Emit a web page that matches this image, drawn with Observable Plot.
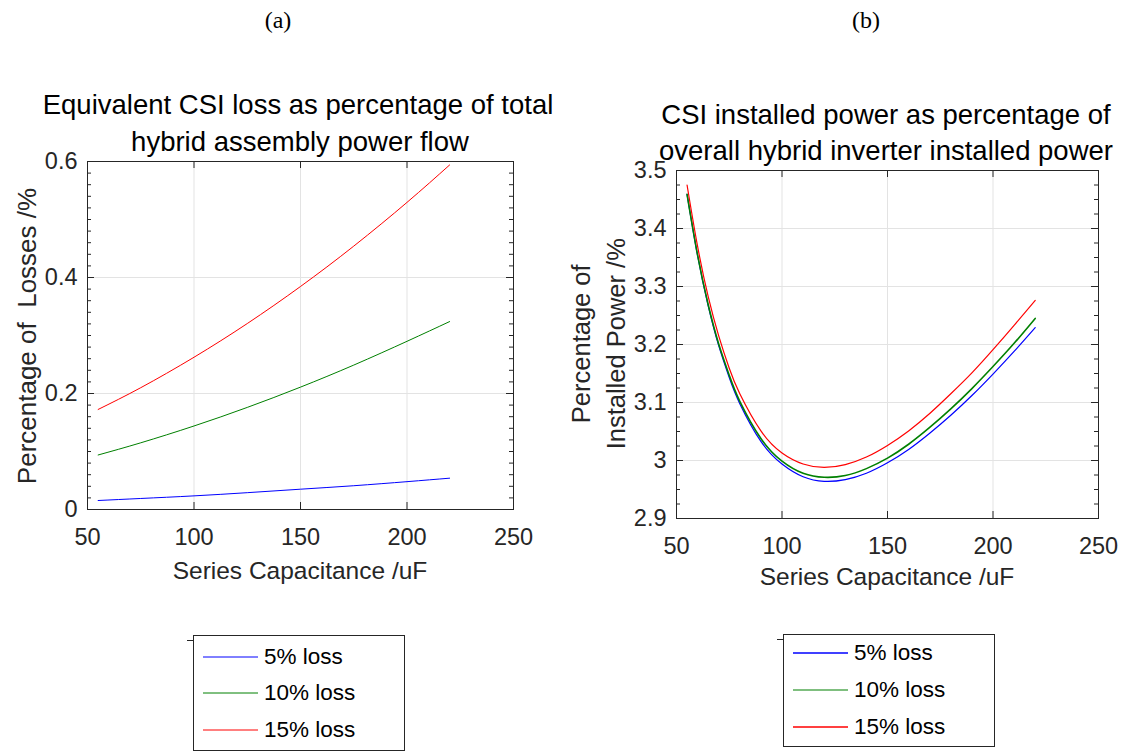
<!DOCTYPE html>
<html><head><meta charset="utf-8">
<script src="https://cdn.jsdelivr.net/npm/d3@7"></script>
<script src="https://cdn.jsdelivr.net/npm/@observablehq/plot@0.6"></script>
<style>
body{margin:0;background:#fff;}
#root{position:relative;width:1130px;height:752px;overflow:hidden;font-family:"Liberation Sans",Arial,sans-serif;color:#262626;}
.t{position:absolute;white-space:pre;text-align:center;}
.panel{position:absolute;}
.legend{position:absolute;border:1px solid #262626;background:#fff;box-sizing:border-box;}
.legend .row{position:absolute;left:0;font-size:22.5px;line-height:22px;color:#000;white-space:pre;}
</style></head><body><div id="root"></div><script>
// ---- data ----
const seriesNames = ["5% loss", "10% loss", "15% loss"];
const seriesColors = ["#0000ff", "#008000", "#ff0000"];

const capA = [55, 75, 100, 125, 150, 175, 200, 220];
const lossA5 = [0.0155, 0.019, 0.0235, 0.029, 0.035, 0.041, 0.048, 0.054];
const lossA10 = [0.094, 0.115, 0.144, 0.176, 0.211, 0.249, 0.290, 0.324];
const lossA15 = [0.1725, 0.210, 0.2625, 0.3206, 0.3845, 0.4541, 0.5295, 0.594];

const capB = [55, 60, 65, 70, 75, 80, 90, 100, 110, 120, 130, 140, 150, 160, 170, 180, 190, 200, 210, 220];
const powerB5 = [3.459, 3.353, 3.267, 3.198, 3.143, 3.098, 3.033, 2.994, 2.972, 2.964, 2.967, 2.978, 2.996, 3.019, 3.047, 3.078, 3.112, 3.149, 3.188, 3.229];
const powerB10 = [3.459, 3.354, 3.269, 3.201, 3.147, 3.102, 3.038, 2.999, 2.978, 2.971, 2.974, 2.986, 3.004, 3.028, 3.057, 3.089, 3.124, 3.162, 3.202, 3.245];
const powerB15 = [3.475, 3.369, 3.283, 3.215, 3.159, 3.115, 3.051, 3.013, 2.994, 2.988, 2.993, 3.006, 3.026, 3.051, 3.081, 3.115, 3.151, 3.191, 3.233, 3.276];

const xTicks = [50, 100, 150, 200, 250];
const xTickLabels = ["50", "100", "150", "200", "250"];
const yTicksA = [0, 0.2, 0.4, 0.6];
const yTickLabelsA = ["0", "0.2", "0.4", "0.6"];
const yTicksB = [2.9, 3.0, 3.1, 3.2, 3.3, 3.4, 3.5];
const yTickLabelsB = ["2.9", "3", "3.1", "3.2", "3.3", "3.4", "3.5"];

const titleA = ["Equivalent CSI loss as percentage of total", "hybrid assembly power flow"];
const titleB = ["CSI installed power as percentage of", "overall hybrid inverter installed power"];
const yLabelA = ["Percentage of  Losses /%"];
const yLabelB = ["Percentage of", "Installed Power /%"];
const xLabel = "Series Capacitance /uF";

// ---- helpers ----
const root = document.getElementById("root");
const FONT = '"Liberation Sans", Arial, sans-serif';

function text(str, cx, cy, size, opts = {}) {
  const d = document.createElement("div");
  d.className = "t";
  d.textContent = str;
  d.style.width = "1000px";
  d.style.left = (cx - 500) + "px";
  d.style.top = (cy - size / 2) + "px";
  d.style.fontSize = size + "px";
  d.style.lineHeight = size + "px";
  d.style.color = opts.color || "#000";
  if (opts.family) d.style.fontFamily = opts.family;
  if (opts.rotate) { d.style.transform = "rotate(-90deg)"; d.style.transformOrigin = "50% 50%"; }
  (opts.parent || root).appendChild(d);
  return d;
}

function rows(names, values, xs) {
  const out = [];
  names.forEach((n, k) => values[k].forEach((v, i) => out.push({series: n, cap: xs[i], value: v})));
  return out;
}

function panel({data, yDomain, yTicks, yLabels, yMinor, width, height, margins, widths}) {
  const plotW = width - margins.marginLeft - margins.marginRight;
  const plotH = height - margins.marginTop - margins.marginBottom;
  const major = 7, minor = 4;
  const tickFmtX = (d) => xTickLabels[xTicks.indexOf(d)];
  const tickFmtY = (d) => yLabels[yTicks.findIndex((t) => Math.abs(t - d) < 1e-9)];
  const ink = "#262626";
  const marks = [
    Plot.gridX(xTicks, {stroke: "#e3e3e3", strokeOpacity: 1}),
    Plot.gridY(yTicks, {stroke: "#e3e3e3", strokeOpacity: 1})
  ];
  seriesNames.forEach((n, k) => {
    marks.push(Plot.line(data.filter((d) => d.series === n), {
      x: "cap", y: "value", stroke: seriesColors[k], strokeWidth: widths[k], curve: "natural"
    }));
  });
  marks.push(
    // inward ticks
    Plot.tickX(xTicks, {stroke: ink, insetTop: plotH - major}),
    Plot.tickX(xTicks, {stroke: ink, insetBottom: plotH - major}),
    Plot.tickY(yTicks, {stroke: ink, insetRight: plotW - major}),
    Plot.tickY(yTicks, {stroke: ink, insetLeft: plotW - major}),
    Plot.tickY(yMinor, {stroke: ink, insetRight: plotW - minor}),
    Plot.tickY(yMinor, {stroke: ink, insetLeft: plotW - minor}),
    // labels
    Plot.axisX(xTicks, {anchor: "bottom", tickSize: 0, tickPadding: 19, tickFormat: tickFmtX, label: null, fontSize: 23.5, fill: ink}),
    Plot.axisY(yTicks, {anchor: "left", tickSize: 0, tickPadding: 10, tickFormat: tickFmtY, label: null, fontSize: 23.5, fill: ink}),
    Plot.frame({stroke: ink})
  );
  return Plot.plot({
    width, height, ...margins,
    x: {domain: [50, 250]},
    y: {domain: yDomain},
    style: {fontFamily: FONT, color: ink, background: "transparent", overflow: "visible"},
    marks
  });
}

// ---- panel (a) ----
const dataA = rows(seriesNames, [lossA5, lossA10, lossA15], capA);
const minorA = d3.range(0, 0.6001, 0.02);
const svgA = panel({
  data: dataA, yDomain: [0, 0.6], yTicks: yTicksA, yLabels: yTickLabelsA, yMinor: minorA,
  width: 560, height: 420,
  margins: {marginLeft: 87, marginRight: 47, marginTop: 11, marginBottom: 61},
  widths: [1, 1, 1]
});
const wrapA = document.createElement("div");
wrapA.className = "panel"; wrapA.style.left = "0px"; wrapA.style.top = "150px";
wrapA.appendChild(svgA); root.appendChild(wrapA);

// ---- panel (b) ----
const dataB = rows(seriesNames, [powerB5, powerB10, powerB15], capB);
const minorB = d3.range(2.9, 3.5001, 0.025);
const svgB = panel({
  data: dataB, yDomain: [2.9, 3.5], yTicks: yTicksB, yLabels: yTickLabelsB, yMinor: minorB,
  width: 530, height: 420,
  margins: {marginLeft: 76, marginRight: 32, marginTop: 20, marginBottom: 52},
  widths: [1.2, 1.6, 1.2]
});
const wrapB = document.createElement("div");
wrapB.className = "panel"; wrapB.style.left = "600px"; wrapB.style.top = "150px";
wrapB.appendChild(svgB); root.appendChild(wrapB);

// ---- texts ----
const SERIF = '"Liberation Serif", "Times New Roman", serif';
text("(a)", 278, 20, 24, {family: SERIF});
text("(b)", 866, 20, 24, {family: SERIF});

text(titleA[0], 298, 105, 27.5);
text(titleA[1], 300, 142, 27.5);
text(titleB[0], 886, 115, 27.5);
text(titleB[1], 886, 151, 27.5);

text(xLabel, 300, 571, 24.5, {color: "#262626"});
text(xLabel, 887, 577, 24.5, {color: "#262626"});
text(yLabelA[0], 27, 336, 26, {rotate: true, color: "#262626"});
text(yLabelB[0], 582, 344, 25.5, {rotate: true, color: "#262626"});
text(yLabelB[1], 617, 344, 25.5, {rotate: true, color: "#262626"});

// ---- legends ----
function legend(left, top, w, h, rowYs, widths) {
  const tick = document.createElement("div");
  tick.style.cssText = `position:absolute;left:${left - 6}px;top:${top + 5}px;width:6px;height:1px;background:#262626;`;
  root.appendChild(tick);
  const box = document.createElement("div");
  box.className = "legend";
  box.style.left = left + "px"; box.style.top = top + "px";
  box.style.width = w + "px"; box.style.height = h + "px";
  seriesNames.forEach((n, k) => {
    const svg = d3.create("svg").attr("width", 60).attr("height", 10)
      .style("position", "absolute").style("left", "9px").style("top", (rowYs[k] - 5) + "px");
    svg.append("line").attr("x1", 0).attr("x2", 55).attr("y1", 5).attr("y2", 5)
      .attr("stroke", seriesColors[k]).attr("stroke-width", widths[k]);
    box.appendChild(svg.node());
    const r = document.createElement("div");
    r.className = "row";
    r.style.left = "70px"; r.style.top = (rowYs[k] - 11) + "px";
    r.textContent = n;
    box.appendChild(r);
  });
  root.appendChild(box);
}
legend(193, 635, 212, 116, [21, 57, 94], [1, 1, 1]);
legend(783, 634, 212, 113, [18, 55, 92], [1.5, 1.2, 1.5]);
</script></body></html>
